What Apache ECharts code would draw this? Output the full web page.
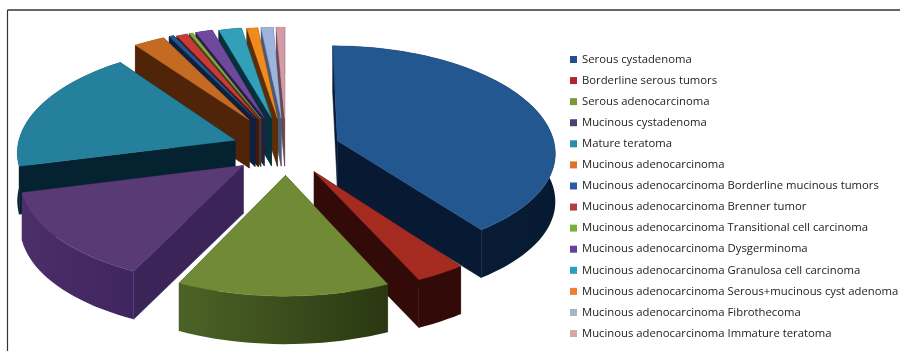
<!DOCTYPE html>
<html>
<head>
<meta charset="utf-8">
<style>html,body{margin:0;padding:0;background:#fff}#chart{width:900px;height:351px}</style>
<script src="https://cdn.jsdelivr.net/npm/echarts@6/dist/echarts.min.js"></script>
</head>
<body>
<div id="chart"></div>
<script>
// Ovarian tumour types, clockwise from twelve o'clock.
const categories = [
  'Serous cystadenoma',
  'Borderline serous tumors',
  'Serous adenocarcinoma',
  'Mucinous cystadenoma',
  'Mature teratoma',
  'Mucinous adenocarcinoma',
  'Mucinous adenocarcinoma Borderline mucinous tumors',
  'Mucinous adenocarcinoma Brenner tumor',
  'Mucinous adenocarcinoma Transitional cell carcinoma',
  'Mucinous adenocarcinoma Dysgerminoma',
  'Mucinous adenocarcinoma Granulosa cell carcinoma',
  'Mucinous adenocarcinoma Serous+mucinous cyst adenoma',
  'Mucinous adenocarcinoma Fibrothecoma',
  'Mucinous adenocarcinoma Immature teratoma'
];
const values = [39.9, 3.3, 13.9, 13.9, 18.9, 2.6, 0.4, 0.9, 0.3, 1.4, 1.9, 0.9, 1.0, 0.7];

// Slice colours: legend swatch, top face, radial wall, outer wall (left and right end).
const legendColors = ['#22508a','#b0262a','#7a9a3a','#4f3f75','#2a8ea8','#e0702a','#2a5aa8','#b04040','#7ab040','#6a3ea0','#2aa0c0','#f08030','#a8b4c4','#d4a8a0'];
const topColors = ['#23578f','#a52b20','#708a36','#5a3a76','#24809c','#c46a22','#25558f','#c63a38','#86a93f','#6f4a9c','#31a0b8','#f08c1c','#9db4dc','#d49aa8'];
const wallColors = ['#081a33','#320b09','#2c3a14','#3b2458','#04222f','#4f2408','#0d2040','#4a1414','#33451a','#2c1a4a','#06303c','#5a2e08','#4a5a78','#6a4650'];
const rimLeft = ['#0a1f3c','#320b09','#4c6326','#4c2e68','#04222f','#4f2408','#0d2040','#4a1414','#33451a','#2c1a4a','#06303c','#5a2e08','#4a5a78','#6a4650'];
const rimRight = ['#071a33','#320b09','#2a3812','#3f2560','#04222f','#4f2408','#0d2040','#4a1414','#33451a','#2c1a4a','#06303c','#5a2e08','#4a5a78','#6a4650'];
const explosion = [0.25, 0.25, 0.25, 0.25, 0.25, 0.33, 0.33, 0.32, 0.32, 0.32, 0.31, 0.3, 0.3, 0.3];

// Projection of the tilted disc.
const view = { cx: 286, cy: 149, rx: 218, ryFront: 103, ryBack: 106, persp: 0.1, depth: 48 };
const total = values.reduce((a, b) => a + b, 0);

function project(u, v) {
  const s = 1 / (1 - view.persp * v);
  const ry = v < 0 ? view.ryBack : view.ryFront;
  return [view.cx + view.rx * u * s, view.cy + ry * v * s];
}
function sliceRange(i) {
  let before = 0;
  for (let k = 0; k < i; k++) before += values[k];
  return [before / total * 2 * Math.PI, (before + values[i]) / total * 2 * Math.PI];
}
function extrude(points) {
  return points.map(p => [p[0], p[1] + view.depth]);
}

function renderSlice(params, api) {
  const i = params.seriesIndex;
  const [a0, a1] = sliceRange(i);
  const mid = (a0 + a1) / 2, e = explosion[i];
  const ou = e * Math.sin(mid), ov = -e * Math.cos(mid);
  const steps = Math.max(2, Math.ceil((a1 - a0) / 0.04));
  const apex = project(ou, ov);
  const rim = [];
  for (let n = 0; n <= steps; n++) {
    const a = a0 + (a1 - a0) * n / steps;
    rim.push(project(ou + Math.sin(a), ov - Math.cos(a)));
  }
  const first = rim[0], last = rim[rim.length - 1];
  const wall = (p) => ({
    type: 'polygon',
    shape: { points: [apex, p].concat(extrude([p, apex])) },
    style: { fill: wallColors[i], stroke: wallColors[i], lineWidth: 0.5 }
  });
  const rimFace = {
    type: 'polygon',
    shape: { points: rim.concat(extrude(rim).reverse()) },
    style: {
      fill: {
        type: 'linear', x: 0, y: 0, x2: 1, y2: 0,
        colorStops: [{ offset: 0, color: rimLeft[i] }, { offset: 1, color: rimRight[i] }]
      }
    }
  };
  const top = {
    type: 'polygon',
    shape: { points: [apex].concat(rim) },
    style: { fill: topColors[i], stroke: topColors[i], lineWidth: 0.4 }
  };
  return { type: 'group', children: [wall(first), wall(last), rimFace, top] };
}

// Back slices are painted first, so nearer ones overlap their walls.
const series = categories.map((name, i) => {
  const [a0, a1] = sliceRange(i);
  return {
    type: 'custom',
    name,
    coordinateSystem: 'none',
    renderItem: renderSlice,
    itemStyle: { color: legendColors[i] },
    z: 10 - Math.cos((a0 + a1) / 2) * 5,
    silent: true,
    data: [values[i]]
  };
});

const chart = echarts.init(document.getElementById('chart'), null, { renderer: 'canvas' });
chart.setOption({
  animation: false,
  backgroundColor: '#fff',
  legend: {
    left: 568,
    top: 52,
    orient: 'vertical',
    icon: 'rect',
    itemWidth: 7,
    itemHeight: 7,
    itemGap: 10.08,
    padding: 2,
    selectedMode: false,
    data: categories,
    textStyle: { fontFamily: 'Open Sans', fontSize: 11.3, color: '#222' }
  },
  graphic: [
    { type: 'line', silent: true, shape: { x1: 7.5, y1: 10, x2: 900, y2: 10 }, style: { stroke: '#333', lineWidth: 1.5 } },
    { type: 'line', silent: true, shape: { x1: 7.5, y1: 10, x2: 7.5, y2: 351 }, style: { stroke: '#333', lineWidth: 1.2 } }
  ],
  series
});
</script>
</body>
</html>
